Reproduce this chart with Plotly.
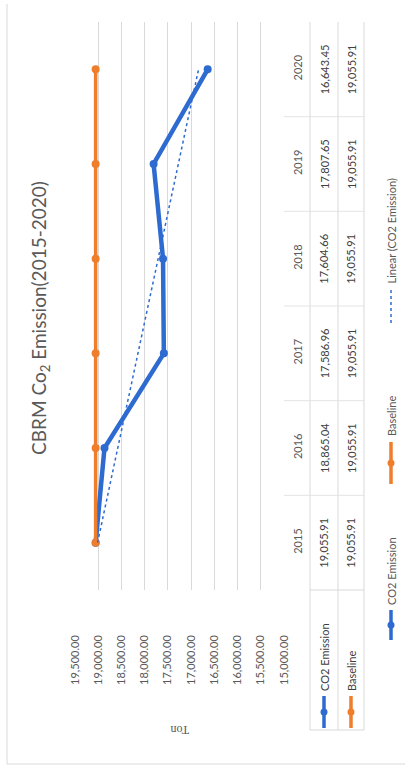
import plotly.graph_objects as go
import numpy as np

# ---------------- data ----------------
years = [2015, 2016, 2017, 2018, 2019, 2020]
co2_emission = [19055.91, 18865.04, 17586.96, 17604.66, 17807.65, 16643.45]
baseline = [19055.91, 19055.91, 19055.91, 19055.91, 19055.91, 19055.91]
value_ticks = [15000, 15500, 16000, 16500, 17000, 17500, 18000, 18500, 19000, 19500]
series_names = ["CO2 Emission", "Baseline", "Linear (CO2 Emission)"]
title_text = "CBRM Co<sub>2</sub> Emission(2015-2020)"
axis_title = "Ton"

# linear trend (least squares, as Excel's trendline)
xi = np.arange(1, len(years) + 1)
slope, intercept = np.polyfit(xi, np.array(co2_emission), 1)
trend = list(slope * xi + intercept)

# ---------------- styling ----------------
BLUE = "#2E6BD1"
ORANGE = "#EE7D2C"
GRID = "#D9D9D9"
GRID2 = "#E4E4E4"
TXT = "#595959"
TXT2 = "#404040"
FONT = "Lato"

W, H = 409, 772
L, RX, T, BY = 75, 284, 22, 590  # plot area in pixels


def xp(px):
    return (px - L) / (RX - L)


def yp(py):
    return (BY - py) / (BY - T)


fig = go.Figure()
fig.add_trace(go.Scatter(x=co2_emission, y=years, mode="lines+markers",
                         line=dict(color=BLUE, width=4.5),
                         marker=dict(color=BLUE, size=8), name=series_names[0]))
fig.add_trace(go.Scatter(x=baseline, y=years, mode="lines+markers",
                         line=dict(color=ORANGE, width=3.5),
                         marker=dict(color=ORANGE, size=8), name=series_names[1]))
fig.add_trace(go.Scatter(x=trend, y=years, mode="lines",
                         line=dict(color=BLUE, width=1.5, dash="dot"),
                         name=series_names[2]))

shapes = []
annotations = []


def vline(px, py0, py1, color=GRID):
    shapes.append(dict(type="line", xref="paper", yref="paper", x0=xp(px), x1=xp(px),
                       y0=yp(py0), y1=yp(py1), line=dict(color=color, width=1)))


def hline(py, px0, px1, color=GRID):
    shapes.append(dict(type="line", xref="paper", yref="paper", x0=xp(px0), x1=xp(px1),
                       y0=yp(py), y1=yp(py), line=dict(color=color, width=1)))


def text(px, py, s, size=11, color=TXT2, angle=-90, yanchor="middle", family=FONT):
    annotations.append(dict(x=xp(px), y=yp(py), xref="paper", yref="paper", text=s,
                            textangle=angle, showarrow=False, xanchor="center",
                            yanchor=yanchor, font=dict(family=family, size=size, color=color)))


# chart border
vline(7, 4, 764)
hline(764, 7, 405)

# ---------- data table ----------
col_co2, col_base = 324, 351
for lx in [310, 338, 364]:
    vline(lx, T, 730)
hline(730, 310, 364)
hline(BY, 310, 364)
for i in range(len(years) - 1):
    yb = (years[i] + years[i + 1]) / 2
    shapes.append(dict(type="line", xref="paper", yref="y", x0=xp(RX), x1=xp(364),
                       y0=yb, y1=yb, line=dict(color=GRID2, width=1)))

for yr, v1, v2 in zip(years, co2_emission, baseline):
    for col, v in ((col_co2, v1), (col_base, v2)):
        annotations.append(dict(x=xp(col), y=yr, xref="paper", yref="y",
                                text=f"{v:,.2f}", textangle=-90, showarrow=False,
                                xanchor="center", yanchor="middle",
                                font=dict(family=FONT, size=11, color=TXT2)))


def key(px, y_lo, y_hi, color, dash=None, marker=True):
    shapes.append(dict(type="line", xref="paper", yref="paper", x0=xp(px), x1=xp(px),
                       y0=yp(y_lo), y1=yp(y_hi),
                       line=dict(color=color, width=1.5 if dash else 3.5, dash=dash or "solid")))
    if marker:
        ym = (y_lo + y_hi) / 2
        shapes.append(dict(type="circle", xref="paper", yref="paper",
                           x0=xp(px - 3.5), x1=xp(px + 3.5), y0=yp(ym + 3.5), y1=yp(ym - 3.5),
                           fillcolor=color, line=dict(color=color, width=0)))


# row headers
key(col_co2, 696, 728, BLUE)
key(col_base, 696, 728, ORANGE)
text(col_co2, 693, series_names[0], yanchor="bottom")
text(col_base, 693, series_names[1], yanchor="bottom")

# legend
LGX = 391
key(LGX, 610, 640, BLUE)
text(LGX, 607, series_names[0], color=TXT, yanchor="bottom")
key(LGX, 442, 484, ORANGE)
text(LGX, 438, series_names[1], color=TXT, yanchor="bottom")
key(LGX, 290, 324, BLUE, dash="dot", marker=False)
text(LGX, 286, series_names[2], color=TXT, yanchor="bottom")

# title and axis title
text(40, 318, title_text, size=19, color=TXT)
text(180, 730, axis_title, size=12, color=TXT, angle=180, family="Liberation Serif")

fig.update_layout(
    width=W, height=H,
    margin=dict(l=L, r=W - RX, t=T, b=H - BY, pad=0),
    paper_bgcolor="white", plot_bgcolor="white",
    showlegend=False,
    xaxis=dict(range=[19500, 15000], tickvals=value_ticks, tickformat=",.2f",
               tickangle=-90, showgrid=True, gridcolor=GRID, gridwidth=1,
               zeroline=False, showline=False, ticks="",
               ticklabelstandoff=42, automargin=False,
               tickfont=dict(family=FONT, size=11, color=TXT)),
    yaxis=dict(range=[2014.5, 2020.5], tickvals=years, ticktext=[str(y) for y in years],
               side="right", tickangle=-90, showgrid=False, zeroline=False,
               showline=False, ticks="", ticklabelstandoff=6, automargin=False,
               tickfont=dict(family=FONT, size=11, color=TXT)),
    shapes=shapes,
    annotations=annotations,
)

fig.write_html("out.html", config={"displayModeBar": False},
               post_script="document.body.style.margin='0';document.body.style.overflow='hidden';")
